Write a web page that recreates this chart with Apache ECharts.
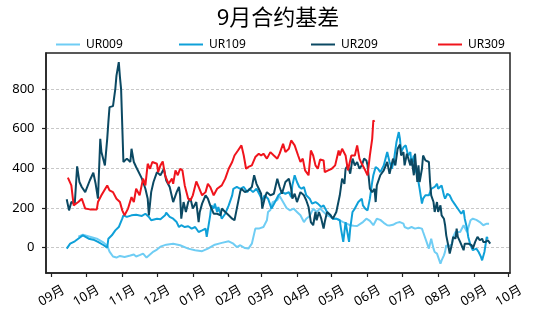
<!DOCTYPE html>
<html>
<head>
<meta charset="utf-8">
<script src="https://cdn.jsdelivr.net/npm/echarts@6.0.0/dist/echarts.min.js"></script>
<style>
html,body{margin:0;padding:0;background:#ffffff;}
#chart{width:537px;height:322px;}
</style>
</head>
<body>
<div id="chart"></div>
<script>
// ---------- data ----------
const titleText = '9月合约基差';
const seriesNames = ['UR009', 'UR109', 'UR209', 'UR309'];
const seasonStart = '2022-09-01';
const tickDates = ['2022-09-01','2022-10-01','2022-11-01','2022-12-01','2023-01-01','2023-02-01','2023-03-01',
  '2023-04-01','2023-05-01','2023-06-01','2023-07-01','2023-08-01','2023-09-01','2023-10-01'];
const tickLabels = ['09月','10月','11月','12月','01月','02月','03月','04月','05月','06月','07月','08月','09月','10月'];
const yTicks = [0, 200, 400, 600, 800];

const ur009Dates = [
  '2022-09-24','2022-09-28','2022-10-04','2022-10-10','2022-10-16','2022-10-19','2022-10-21','2022-10-24','2022-10-27','2022-10-30',
  '2022-11-03','2022-11-08','2022-11-11','2022-11-13','2022-11-16','2022-11-19','2022-11-22','2022-11-25','2022-11-28','2022-12-01',
  '2022-12-04','2022-12-09','2022-12-15','2022-12-21','2022-12-28','2023-01-03','2023-01-09','2023-01-14','2023-01-20','2023-01-26',
  '2023-02-01','2023-02-05','2023-02-08','2023-02-11','2023-02-15','2023-02-18','2023-02-21','2023-02-24','2023-02-27','2023-03-03',
  '2023-03-06','2023-03-07','2023-03-09','2023-03-11','2023-03-15','2023-03-17','2023-03-20','2023-03-23','2023-03-26','2023-03-29',
  '2023-04-01','2023-04-04','2023-04-07','2023-04-09','2023-04-12','2023-04-15','2023-04-18','2023-04-21','2023-04-24','2023-04-27',
  '2023-04-30','2023-05-02','2023-05-05','2023-05-08','2023-05-11','2023-05-14','2023-05-17','2023-05-20','2023-05-23','2023-05-26',
  '2023-05-28','2023-05-31','2023-06-03','2023-06-06','2023-06-09','2023-06-12','2023-06-15','2023-06-18','2023-06-20','2023-06-23',
  '2023-06-26','2023-06-29','2023-07-02','2023-07-03','2023-07-06','2023-07-09','2023-07-12','2023-07-15','2023-07-18','2023-07-19',
  '2023-07-22','2023-07-24','2023-07-25','2023-07-26','2023-07-28','2023-07-29','2023-07-31','2023-08-01','2023-08-03','2023-08-04',
  '2023-08-06','2023-08-07','2023-08-08','2023-08-10','2023-08-11','2023-08-13','2023-08-14','2023-08-16','2023-08-17','2023-08-20',
  '2023-08-23','2023-08-26','2023-08-29','2023-08-31','2023-09-03','2023-09-06','2023-09-09','2023-09-12','2023-09-14'];
const ur009Values = [
  55, 65, 55, 45, 25, 10, -20, -45, -50, -42,
  -47, -40, -35, -45, -38, -30, -50, -35, -20, -10,
  5, 15, 20, 12, -5, -13, -18, -5, 15, 24,
  32, 20, 3, 12, -2, -5, 20, 96, 96, 104,
  138, 180, 190, 230, 240, 260, 230, 200, 188, 197,
  180, 163, 129, 146, 160, 197, 180, 197, 180, 163,
  155, 146, 146, 138, 129, 121, 113, 110, 109, 121,
  129, 146, 135, 113, 146, 140, 125, 113, 112, 115,
  125, 129, 121, 104, 96, 104, 96, 100, 96, 79,
  29, -5, -13, 45, -5, -22, -30, -39, -81, -64,
  -39, -20, 12, 5, -5, 20, 54, 79, 87, 79,
  113, 79, 138, 146, 140, 129, 113, 121, 121];

const ur109Dates = [
  '2022-09-14','2022-09-17','2022-09-21','2022-09-26','2022-09-28','2022-10-03','2022-10-07','2022-10-11','2022-10-16','2022-10-19',
  '2022-10-20','2022-10-23','2022-10-26','2022-10-29','2022-11-01','2022-11-02','2022-11-05','2022-11-09','2022-11-13','2022-11-18',
  '2022-11-21','2022-11-24','2022-11-26','2022-12-01','2022-12-04','2022-12-08','2022-12-09','2022-12-12','2022-12-15','2022-12-18',
  '2022-12-20','2022-12-22','2022-12-25','2022-12-28','2022-12-31','2023-01-03','2023-01-06','2023-01-09','2023-01-12','2023-01-13',
  '2023-01-14','2023-01-16','2023-01-17','2023-01-19','2023-01-20','2023-01-22','2023-01-23','2023-01-26','2023-01-29','2023-02-01',
  '2023-02-04','2023-02-05','2023-02-08','2023-02-11','2023-02-14','2023-02-17','2023-02-19','2023-02-22','2023-02-25','2023-02-28',
  '2023-03-02','2023-03-04','2023-03-07','2023-03-10','2023-03-13','2023-03-16','2023-03-19','2023-03-22','2023-03-25','2023-03-27',
  '2023-03-28','2023-03-30','2023-04-01','2023-04-03','2023-04-05','2023-04-07','2023-04-09','2023-04-12','2023-04-14','2023-04-17',
  '2023-04-19','2023-04-22','2023-04-24','2023-04-27','2023-04-30','2023-05-02','2023-05-05','2023-05-08','2023-05-09','2023-05-11',
  '2023-05-12','2023-05-13','2023-05-15','2023-05-16','2023-05-17','2023-05-19','2023-05-21','2023-05-24','2023-05-27','2023-05-28',
  '2023-05-30','2023-06-01','2023-06-03','2023-06-05','2023-06-06','2023-06-08','2023-06-10','2023-06-12','2023-06-15','2023-06-18',
  '2023-06-20','2023-06-22','2023-06-24','2023-06-26','2023-06-28','2023-06-29','2023-06-30','2023-07-02','2023-07-04','2023-07-06',
  '2023-07-08','2023-07-09','2023-07-11','2023-07-12','2023-07-14','2023-07-15','2023-07-16','2023-07-18','2023-07-19','2023-07-21',
  '2023-07-22','2023-07-24','2023-07-25','2023-07-26','2023-07-29','2023-07-31','2023-08-01','2023-08-04','2023-08-06','2023-08-07',
  '2023-08-09','2023-08-11','2023-08-13','2023-08-15','2023-08-17','2023-08-18','2023-08-21','2023-08-23','2023-08-24','2023-08-26',
  '2023-08-27','2023-08-29','2023-08-31','2023-09-03','2023-09-05','2023-09-07','2023-09-08','2023-09-10','2023-09-12','2023-09-13'];
const ur109Values = [
  -5, 20, 32, 54, 62, 45, 40, 29, 12, 0,
  45, 62, 87, 104, 146, 163, 155, 163, 166, 160,
  171, 155, 138, 146, 143, 163, 176, 155, 146, 129,
  104, 113, 104, 108, 96, 104, 79, 87, 96, 54,
  45, 163, 213, 197, 222, 180, 205, 146, 171, 213,
  264, 297, 306, 297, 306, 280, 297, 280, 297, 264,
  239, 264, 247, 197, 230, 264, 280, 272, 280, 255,
  314, 365, 331, 306, 297, 306, 264, 247, 222, 230,
  222, 205, 213, 180, 163, 146, 146, 138, 96, 29,
  79, 129, 62, 29, 96, 180, 197, 230, 247, 213,
  197, 188, 247, 331, 365, 407, 398, 381, 415, 482,
  432, 398, 449, 533, 583, 549, 482, 506, 516, 465,
  482, 415, 465, 398, 365, 331, 297, 222, 247, 264,
  255, 264, 280, 297, 306, 322, 297, 314, 264, 247,
  272, 264, 239, 222, 205, 197, 171, 188, 146, 96,
  54, 12, -13, -5, -22, -47, -64, -22, 54, 45];

const ur209Dates = [
  '2022-09-14','2022-09-16','2022-09-18','2022-09-21','2022-09-23','2022-09-25','2022-09-27','2022-09-30','2022-10-04','2022-10-07',
  '2022-10-09','2022-10-11','2022-10-13','2022-10-14','2022-10-17','2022-10-19','2022-10-20','2022-10-21','2022-10-24','2022-10-26',
  '2022-10-27','2022-10-29','2022-10-30','2022-10-31','2022-11-02','2022-11-05','2022-11-08','2022-11-09','2022-11-11','2022-11-13',
  '2022-11-18','2022-11-21','2022-11-23','2022-11-24','2022-11-26','2022-11-28','2022-12-01','2022-12-04','2022-12-07','2022-12-09',
  '2022-12-12','2022-12-15','2022-12-18','2022-12-20','2022-12-21','2022-12-22','2022-12-24','2022-12-26','2022-12-28','2022-12-30',
  '2023-01-01','2023-01-04','2023-01-06','2023-01-07','2023-01-09','2023-01-12','2023-01-14','2023-01-16','2023-01-19','2023-01-22',
  '2023-01-25','2023-01-26','2023-01-29','2023-02-01','2023-02-04','2023-02-06','2023-02-08','2023-02-11','2023-02-12','2023-02-15',
  '2023-02-18','2023-02-21','2023-02-23','2023-02-25','2023-02-27','2023-03-01','2023-03-02','2023-03-04','2023-03-06','2023-03-09',
  '2023-03-12','2023-03-15','2023-03-17','2023-03-19','2023-03-22','2023-03-25','2023-03-27','2023-03-28','2023-03-30','2023-04-01',
  '2023-04-04','2023-04-07','2023-04-09','2023-04-11','2023-04-13','2023-04-15','2023-04-17','2023-04-18','2023-04-20','2023-04-22',
  '2023-04-24','2023-04-25','2023-04-27','2023-04-30','2023-05-02','2023-05-05','2023-05-08','2023-05-10','2023-05-12','2023-05-13',
  '2023-05-15','2023-05-17','2023-05-19','2023-05-21','2023-05-23','2023-05-25','2023-05-27','2023-05-29','2023-05-31','2023-06-01',
  '2023-06-03','2023-06-05','2023-06-07','2023-06-08','2023-06-09','2023-06-12','2023-06-15','2023-06-18','2023-06-20','2023-06-23',
  '2023-06-25','2023-06-27','2023-06-29','2023-06-30','2023-07-02','2023-07-03','2023-07-05','2023-07-06','2023-07-08','2023-07-09',
  '2023-07-11','2023-07-12','2023-07-14','2023-07-15','2023-07-16','2023-07-18','2023-07-19','2023-07-20','2023-07-21','2023-07-24',
  '2023-07-25','2023-07-26','2023-07-28','2023-07-29','2023-07-31','2023-08-01','2023-08-03','2023-08-04','2023-08-06','2023-08-07',
  '2023-08-08','2023-08-10','2023-08-11','2023-08-13','2023-08-14','2023-08-16','2023-08-17','2023-08-18','2023-08-20','2023-08-21',
  '2023-08-23','2023-08-24','2023-08-27','2023-08-30','2023-08-31','2023-09-02','2023-09-04','2023-09-06','2023-09-08','2023-09-09',
  '2023-09-11','2023-09-12','2023-09-13','2023-09-15'];
const ur209Values = [
  244, 188, 230, 225, 410, 331, 306, 280, 340, 378,
  322, 247, 549, 482, 415, 549, 633, 709, 714, 801,
  868, 936, 860, 800, 432, 449, 432, 499, 432, 407,
  348, 297, 247, 163, 280, 331, 381, 365, 398, 339,
  306, 230, 280, 306, 264, 146, 230, 180, 230, 247,
  197, 230, 129, 180, 222, 264, 247, 213, 171, 171,
  163, 197, 180, 163, 146, 138, 197, 284, 297, 280,
  289, 306, 365, 322, 297, 272, 197, 247, 280, 264,
  272, 348, 306, 272, 331, 348, 297, 247, 272, 230,
  280, 264, 239, 205, 129, 113, 180, 138, 180, 146,
  96, 129, 180, 163, 146, 180, 264, 348, 322, 398,
  415, 373, 449, 415, 432, 398, 415, 449, 440, 415,
  297, 280, 297, 230, 314, 365, 390, 432, 373, 449,
  415, 499, 520, 465, 482, 415, 474, 482, 415, 449,
  365, 474, 331, 415, 331, 398, 465, 474, 440, 432,
  331, 264, 230, 180, 230, 180, 213, 163, 146, 113,
  62, 3, -30, 20, 54, 45, 96, 54, 29, 37,
  -13, 20, 20, 12, -5, 29, 54, 37, 45, 29,
  29, 20, 37, 20];

const ur309Dates = [
  '2022-09-15','2022-09-18','2022-09-20','2022-09-21','2022-09-24','2022-09-27','2022-09-30','2022-10-04','2022-10-10','2022-10-11',
  '2022-10-14','2022-10-19','2022-10-21','2022-10-24','2022-10-27','2022-10-30','2022-11-01','2022-11-03','2022-11-06','2022-11-09',
  '2022-11-11','2022-11-13','2022-11-16','2022-11-19','2022-11-21','2022-11-23','2022-11-25','2022-11-27','2022-12-01','2022-12-02',
  '2022-12-04','2022-12-06','2022-12-08','2022-12-11','2022-12-14','2022-12-15','2022-12-17','2022-12-19','2022-12-21','2022-12-23',
  '2022-12-25','2022-12-28','2022-12-30','2023-01-01','2023-01-04','2023-01-06','2023-01-09','2023-01-12','2023-01-14','2023-01-16',
  '2023-01-19','2023-01-22','2023-01-26','2023-01-29','2023-02-01','2023-02-04','2023-02-06','2023-02-09','2023-02-12','2023-02-14',
  '2023-02-16','2023-02-18','2023-02-21','2023-02-24','2023-02-27','2023-03-01','2023-03-03','2023-03-06','2023-03-09','2023-03-12',
  '2023-03-15','2023-03-17','2023-03-20','2023-03-22','2023-03-25','2023-03-27','2023-03-30','2023-04-02','2023-04-04','2023-04-06',
  '2023-04-08','2023-04-11','2023-04-13','2023-04-15','2023-04-17','2023-04-19','2023-04-21','2023-04-24','2023-04-25','2023-04-28',
  '2023-05-01','2023-05-04','2023-05-07','2023-05-08','2023-05-10','2023-05-13','2023-05-15','2023-05-18','2023-05-21','2023-05-23',
  '2023-05-25','2023-05-27','2023-05-30','2023-06-01','2023-06-03','2023-06-05','2023-06-06','2023-06-07'];
const ur309Values = [
  353, 314, 213, 205, 230, 247, 197, 193, 193, 230,
  264, 314, 289, 280, 247, 230, 188, 163, 197, 255,
  230, 297, 264, 348, 314, 423, 398, 432, 423, 381,
  415, 435, 365, 322, 348, 322, 390, 365, 398, 390,
  314, 247, 239, 264, 334, 306, 264, 280, 322, 306,
  264, 297, 314, 348, 398, 432, 465, 490, 516, 465,
  398, 407, 415, 457, 474, 465, 474, 449, 482, 465,
  449, 474, 524, 482, 499, 541, 516, 465, 432, 449,
  390, 365, 490, 465, 415, 398, 445, 440, 381, 390,
  398, 415, 490, 465, 499, 465, 390, 465, 465, 516,
  449, 423, 390, 365, 465, 549, 642, 635];

const seriesColors = ['#6fcdf4', '#0fa0d8', '#0b4963', '#f0141c'];

// ---------- helpers ----------
function dayOffset(s) {
  const p = s.split('-').map(Number);
  const q = seasonStart.split('-').map(Number);
  return (Date.UTC(p[0], p[1] - 1, p[2]) - Date.UTC(q[0], q[1] - 1, q[2])) / 86400000;
}
function pairs(dates, values) {
  return dates.map((d, i) => [dayOffset(d), values[i]]);
}
const tickPos = tickDates.map(dayOffset);
const labelMap = {};
tickPos.forEach((p, i) => { labelMap[p] = tickLabels[i]; });

const FONT = "'Noto Sans', 'Noto Sans CJK SC', sans-serif";
const allData = [
  pairs(ur009Dates, ur009Values),
  pairs(ur109Dates, ur109Values),
  pairs(ur209Dates, ur209Values),
  pairs(ur309Dates, ur309Values)
];
const legendLefts = [56, 179, 311, 438];

const chart = echarts.init(document.getElementById('chart'), null, {renderer: 'canvas'});
const option = {
  animation: false,
  backgroundColor: '#ffffff',
  textStyle: {fontFamily: FONT},
  title: {
    text: titleText,
    left: 273, top: 3,
    textAlign: 'center',
    textStyle: {fontSize: 22, fontWeight: 'normal', color: '#000', fontFamily: FONT}
  },
  legend: seriesNames.map((n, i) => ({
    data: [n],
    left: legendLefts[i], top: 38.5,
    padding: 0,
    icon: 'rect',
    itemWidth: 24, itemHeight: 2,
    itemGap: 0,
    textStyle: {fontSize: 12, color: '#000', fontFamily: FONT, padding: [0, 0, 0, 1]}
  })),
  grid: {
    left: 46, right: 27, top: 53, bottom: 49,
    show: true, borderColor: '#222', borderWidth: 1.5,
    containLabel: false, outerBoundsMode: 'none'
  },
  xAxis: {
    type: 'value',
    min: -4.9, max: 396.1,
    axisLine: {show: true, onZero: false, lineStyle: {color: '#222', width: 1.5}},
    axisTick: {show: true, customValues: tickPos, length: 4, inside: false, lineStyle: {color: '#222', width: 1.2}},
    axisLabel: {
      show: true, customValues: tickPos,
      formatter: v => labelMap[v] || '',
      rotate: 30, align: 'center', verticalAlign: 'middle', margin: 23,
      fontSize: 13, color: '#000', fontFamily: FONT
    },
    splitLine: {show: false}
  },
  yAxis: {
    type: 'value',
    min: -128, max: 982,
    axisLine: {show: true, onZero: false, lineStyle: {color: '#222', width: 1.5}},
    axisTick: {show: true, customValues: yTicks, length: 4, lineStyle: {color: '#222', width: 1.2}},
    axisLabel: {show: true, customValues: yTicks, margin: 11.5, fontSize: 13, color: '#000', fontFamily: FONT},
    splitLine: {show: true, lineStyle: {color: '#c2c2c2', width: 0.9, type: [3, 2]}}
  },
  series: seriesNames.map((n, i) => ({
    name: n,
    type: 'line',
    data: allData[i],
    symbol: 'none',
    showSymbol: false,
    smooth: false,
    clip: true,
    lineStyle: {color: seriesColors[i], width: 2},
    itemStyle: {color: seriesColors[i]}
  }))
};
chart.setOption(option);
</script>
</body>
</html>
